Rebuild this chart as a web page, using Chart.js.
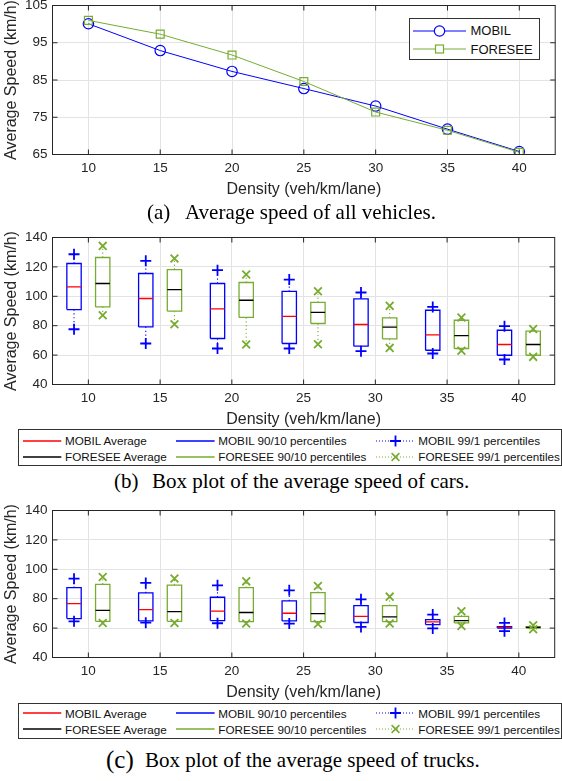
<!DOCTYPE html>
<html>
<head>
<meta charset="utf-8">
<script src="https://cdn.jsdelivr.net/npm/chart.js@4.4.1/dist/chart.umd.min.js"></script>
<style>
  html, body { margin: 0; padding: 0; background: #fff; }
  body { width: 562px; height: 781px; position: relative; overflow: hidden; }
  canvas { position: absolute; left: 0; }
  .cap { position: absolute; font-family: 'Liberation Serif', 'Times New Roman', serif; color: #000; white-space: pre; line-height: 1; }
  .lg { position: absolute; box-sizing: border-box; border: 1px solid #333; background: #fff;
        font-family: 'Liberation Sans', Arial, sans-serif; color: #111; z-index: 2; }
  .lg span { position: absolute; white-space: nowrap; line-height: 1; }
  .lg svg { position: absolute; overflow: visible; }
</style>
</head>
<body>
<canvas id="all" width="562" height="214" style="top:-10px"></canvas>
<canvas id="cars" width="562" height="213" style="top:221px"></canvas>
<canvas id="trucks" width="562" height="213" style="top:494px"></canvas>

<div id="lgAll" class="lg" style="left:409px;top:18px;width:131px;height:42px"></div>
<div id="lgCars" class="lg" style="left:18px;top:429px;width:544px;height:37px"></div>
<div id="lgTrucks" class="lg" style="left:18px;top:703px;width:544px;height:36px"></div>

<span class="cap" style="left:147px;top:202px;font-size:21px">(a)</span>
<span class="cap" style="left:185px;top:202px;font-size:21px">Average speed of all vehicles.</span>
<span class="cap" style="left:114px;top:471px;font-size:21px">(b)</span>
<span class="cap" style="left:152px;top:471px;font-size:21px">Box plot of the average speed of cars.</span>
<span class="cap" style="left:106px;top:747px;font-size:25px">(c)</span>
<span class="cap" style="left:145px;top:750px;font-size:21px">Box plot of the average speed of trucks.</span>

<script>
// density axis (veh/km/lane)
const density = [10, 15, 20, 25, 30, 35, 40];
const densityTicks = [10, 15, 20, 25, 30, 35, 40];
const speedTicksAll = [65, 75, 85, 95, 105];
const speedTicksBox = [40, 60, 80, 100, 120, 140];

// (a) average speed of all vehicles
const mobilAll   = [100.1, 92.9, 87.3, 82.7, 78.0, 71.8, 65.8];
const foreseeAll = [101.0, 97.3, 91.7, 84.6, 76.4, 71.5, 65.6];

// (b) cars: 99th, 90th, average, 10th, 1st percentile
const carMobilP99 = [128.6, 124.1, 117.8, 111.4, 102.6, 92.8, 79.7];
const carMobilP90 = [122.3, 115.5, 108.7, 103.3, 98.2, 90.5, 76.9];
const carMobilAvg = [106.4, 98.5, 91.4, 86.3, 80.8, 73.8, 67.2];
const carMobilP10 = [91.0, 79.2, 71.3, 67.9, 66.1, 63.3, 59.9];
const carMobilP1  = [77.6, 67.9, 64.5, 64.5, 62.7, 61.1, 57.0];

const carForeseeP99 = [134.3, 125.7, 114.8, 103.5, 93.5, 85.6, 77.8];
const carForeseeP90 = [126.4, 118.2, 109.4, 95.8, 85.3, 83.7, 76.3];
const carForeseeAvg = [108.7, 104.6, 97.3, 89.0, 79.0, 73.3, 67.2];
const carForeseeP10 = [92.8, 89.9, 85.6, 81.5, 71.0, 64.5, 59.9];
const carForeseeP1  = [87.1, 81.0, 67.2, 67.4, 64.9, 62.9, 58.8];

// (c) trucks
const truckMobilP99 = [93.6, 90.7, 89.1, 85.7, 79.6, 69.2, 63.5];
const truckMobilP90 = [87.5, 83.9, 81.0, 78.5, 75.3, 65.8, 61.0];
const truckMobilAvg = [76.7, 72.6, 71.6, 70.1, 68.0, 64.2, 60.5];
const truckMobilP10 = [66.5, 64.9, 65.1, 64.9, 63.8, 62.4, 60.0];
const truckMobilP1  = [64.6, 63.7, 63.3, 63.1, 60.8, 59.8, 57.9];

const truckForeseeP99 = [94.7, 93.8, 91.8, 88.6, 81.4, 71.4, 61.9];
const truckForeseeP90 = [89.8, 89.3, 87.5, 84.1, 75.3, 68.0, 61.0];
const truckForeseeAvg = [72.1, 71.2, 70.6, 69.9, 67.6, 65.1, 60.5];
const truckForeseeP10 = [64.6, 64.6, 64.4, 64.4, 64.4, 63.5, 60.0];
const truckForeseeP1  = [63.5, 63.5, 63.1, 62.8, 63.1, 61.5, 59.2];

const BLUE = '#0000ff', RED = '#ff0000', GREEN = '#77ac30', BLACK = '#000000';
const AXIS = '#262626', GRID = '#e3e3e3';
const SANS = "'Liberation Sans', Arial, sans-serif";
const HALF = 0.5;   // half box width, in density units

// box outline, median, whisker and marker point lists (null y breaks the line)
function boxRects(shift, lo, hi) {
  return density.flatMap((d, i) => {
    const a = d + shift - HALF, b = d + shift + HALF;
    return [{x: a, y: lo[i]}, {x: b, y: lo[i]}, {x: b, y: hi[i]}, {x: a, y: hi[i]}, {x: a, y: lo[i]}, {x: a, y: null}];
  });
}
function medians(shift, v) {
  return density.flatMap((d, i) => [{x: d + shift - HALF, y: v[i]}, {x: d + shift + HALF, y: v[i]}, {x: d + shift + HALF, y: null}]);
}
function whiskers(shift, from, to) {
  return density.flatMap((d, i) => [{x: d + shift, y: from[i]}, {x: d + shift, y: to[i]}, {x: d + shift, y: null}]);
}
function marks(shift, vals) {
  return density.map((d, i) => ({x: d + shift, y: vals[i]}));
}

function lineSet(data, color, width, dash) {
  return { data, borderColor: color, borderWidth: width, borderDash: dash || [], pointRadius: 0,
           pointHitRadius: 0, fill: false, tension: 0, borderJoinStyle: 'miter', borderCapStyle: 'butt' };
}
function markSet(data, color, style) {
  return { data, showLine: false, pointStyle: style, pointRadius: 5.5, pointBorderWidth: 1.8,
           pointBorderColor: color, pointBackgroundColor: color };
}

function boxSeries(shift, color, medColor, markStyle, p99, p90, avg, p10, p1) {
  return [
    markSet(marks(shift, p99), color, markStyle),
    markSet(marks(shift, p1), color, markStyle),
    lineSet(medians(shift, avg), medColor, 1.3),
    lineSet(boxRects(shift, p10, p90), color, 1.3),
    lineSet(whiskers(shift, p90, p99), color, 1.1, [1.2, 2.6]),
    lineSet(whiskers(shift, p10, p1), color, 1.1, [1.2, 2.6])
  ];
}

// axes box with inward tick marks
const axesBox = {
  id: 'axesBox',
  afterDatasetsDraw(chart) {
    const {ctx, chartArea: a, scales: {x, y}} = chart;
    ctx.save();
    ctx.strokeStyle = AXIS;
    ctx.lineWidth = 1;
    ctx.strokeRect(a.left, a.top, a.right - a.left, a.bottom - a.top);
    ctx.beginPath();
    x.ticks.forEach(t => {
      const px = x.getPixelForValue(t.value);
      ctx.moveTo(px, a.bottom); ctx.lineTo(px, a.bottom - 5);
      ctx.moveTo(px, a.top); ctx.lineTo(px, a.top + 5);
    });
    y.ticks.forEach(t => {
      const py = y.getPixelForValue(t.value);
      ctx.moveTo(a.left, py); ctx.lineTo(a.left + 5, py);
      ctx.moveTo(a.right, py); ctx.lineTo(a.right - 5, py);
    });
    ctx.stroke();
    ctx.restore();
  }
};

function makeChart(id, padTop, yTicks, datasets) {
  return new Chart(document.getElementById(id), {
    type: 'line',
    data: { datasets },
    options: {
      responsive: false,
      animation: false,
      events: [],
      layout: { padding: { top: padTop, right: 5.5, left: 0, bottom: 0 } },
      plugins: { legend: { display: false }, tooltip: { enabled: false } },
      scales: {
        x: {
          type: 'linear', min: 7.5, max: 42.5,
          afterBuildTicks: s => { s.ticks = densityTicks.map(v => ({ value: v })); },
          afterFit: s => { s.height = 49.5; },
          grid: { color: GRID, drawTicks: false },
          border: { display: false },
          ticks: { color: AXIS, font: { family: SANS, size: 13.5 }, padding: 6, maxRotation: 0, autoSkip: false },
          title: { display: true, text: 'Density (veh/km/lane)', color: AXIS,
                   font: { family: SANS, size: 16 }, padding: { top: 0, bottom: 4.9 } }
        },
        y: {
          type: 'linear', min: yTicks[0], max: yTicks[yTicks.length - 1],
          afterBuildTicks: s => { s.ticks = yTicks.map(v => ({ value: v })); },
          afterFit: s => { s.width = 52.5; },
          grid: { color: GRID, drawTicks: false },
          border: { display: false },
          ticks: { color: AXIS, font: { family: SANS, size: 13.5 }, padding: 5, autoSkip: false },
          title: { display: true, text: 'Average Speed (km/h)', color: AXIS,
                   font: { family: SANS, size: 16 }, padding: { top: 2, bottom: 0 } }
        }
      }
    },
    plugins: [axesBox]
  });
}

makeChart('all', 15.5, speedTicksAll, [
  { label: 'FORESEE', data: density.map((d, i) => ({x: d, y: foreseeAll[i]})), borderColor: GREEN, borderWidth: 1,
    pointStyle: 'rect', pointRadius: 5.6, pointBorderWidth: 1.2, pointBorderColor: GREEN, pointBackgroundColor: 'rgba(0,0,0,0)' },
  { label: 'MOBIL', data: density.map((d, i) => ({x: d, y: mobilAll[i]})), borderColor: BLUE, borderWidth: 1,
    pointStyle: 'circle', pointRadius: 5.2, pointBorderWidth: 1.2, pointBorderColor: BLUE, pointBackgroundColor: 'rgba(0,0,0,0)' }
]);

makeChart('cars', 16.5, speedTicksBox, [
  ...boxSeries(1, GREEN, BLACK, 'crossRot', carForeseeP99, carForeseeP90, carForeseeAvg, carForeseeP10, carForeseeP1),
  ...boxSeries(-1, BLUE, RED, 'cross', carMobilP99, carMobilP90, carMobilAvg, carMobilP10, carMobilP1)
]);

makeChart('trucks', 16.5, speedTicksBox, [
  ...boxSeries(1, GREEN, BLACK, 'crossRot', truckForeseeP99, truckForeseeP90, truckForeseeAvg, truckForeseeP10, truckForeseeP1),
  ...boxSeries(-1, BLUE, RED, 'cross', truckMobilP99, truckMobilP90, truckMobilAvg, truckMobilP10, truckMobilP1)
]);

// legends: small svg samples next to real text
const NS = 'http://www.w3.org/2000/svg';
function svgEl(tag, attrs) {
  const e = document.createElementNS(NS, tag);
  Object.entries(attrs).forEach(([k, v]) => e.setAttribute(k, v));
  return e;
}
function sample(w, color, width, dash, marker) {
  const svg = svgEl('svg', { width: w, height: 14 });
  const line = svgEl('line', { x1: 0, y1: 7, x2: w, y2: 7, stroke: color, 'stroke-width': width });
  if (dash) line.setAttribute('stroke-dasharray', dash);
  svg.appendChild(line);
  const c = w / 2;
  if (marker === 'circle') svg.appendChild(svgEl('circle', { cx: c, cy: 7, r: 5.2, fill: '#fff', stroke: color, 'stroke-width': 1.2 }));
  if (marker === 'rect') svg.appendChild(svgEl('rect', { x: c - 4, y: 3, width: 8, height: 8, fill: '#fff', stroke: color, 'stroke-width': 1.2 }));
  if (marker === 'cross') svg.appendChild(svgEl('path', { d: `M${c - 5.5} 7H${c + 5.5}M${c} 1.5V12.5`, stroke: color, 'stroke-width': 1.8 }));
  if (marker === 'crossRot') svg.appendChild(svgEl('path', { d: `M${c - 3.9} 3.1L${c + 3.9} 10.9M${c - 3.9} 10.9L${c + 3.9} 3.1`, stroke: color, 'stroke-width': 1.6 }));
  return svg;
}
function buildLegend(id, fontSize, items) {
  const el = document.getElementById(id);
  const ox = el.offsetLeft + 1, oy = el.offsetTop + 1;
  el.style.fontSize = fontSize + 'px';
  items.forEach(it => {
    const s = sample(it.x1 - it.x0, it.color, it.width, it.dash, it.marker);
    s.style.left = (it.x0 - ox) + 'px';
    s.style.top = (it.y - 7 - oy) + 'px';
    el.appendChild(s);
    const t = document.createElement('span');
    t.textContent = it.text;
    t.style.left = (it.tx - ox) + 'px';
    t.style.top = (it.y - 0.4885 * fontSize - oy) + 'px';
    el.appendChild(t);
  });
}

buildLegend('lgAll', 13, [
  { text: 'MOBIL', x0: 413, x1: 466, tx: 470.5, y: 30.7, color: BLUE, width: 1, marker: 'circle' },
  { text: 'FORESEE', x0: 413, x1: 466, tx: 470.5, y: 49.3, color: GREEN, width: 1, marker: 'rect' }
]);

function boxLegend(id, r1, r2) {
  buildLegend(id, 11.7, [
    { text: 'MOBIL Average', x0: 22.7, x1: 61, tx: 65, y: r1, color: RED, width: 1.3 },
    { text: 'FORESEE Average', x0: 22.7, x1: 61, tx: 65, y: r2, color: BLACK, width: 1.3 },
    { text: 'MOBIL 90/10 percentiles', x0: 175.7, x1: 214.3, tx: 218.3, y: r1, color: BLUE, width: 1.3 },
    { text: 'FORESEE 90/10 percentiles', x0: 175.7, x1: 214.3, tx: 218.3, y: r2, color: GREEN, width: 1.3 },
    { text: 'MOBIL 99/1 percentiles', x0: 376, x1: 415, tx: 418.3, y: r1, color: BLUE, width: 1, dash: '1 2', marker: 'cross' },
    { text: 'FORESEE 99/1 percentiles', x0: 376, x1: 415, tx: 418.3, y: r2, color: GREEN, width: 1, dash: '1 2', marker: 'crossRot' }
  ]);
}
boxLegend('lgCars', 440.7, 456.7);
boxLegend('lgTrucks', 713.3, 729.3);
</script>
</body>
</html>
